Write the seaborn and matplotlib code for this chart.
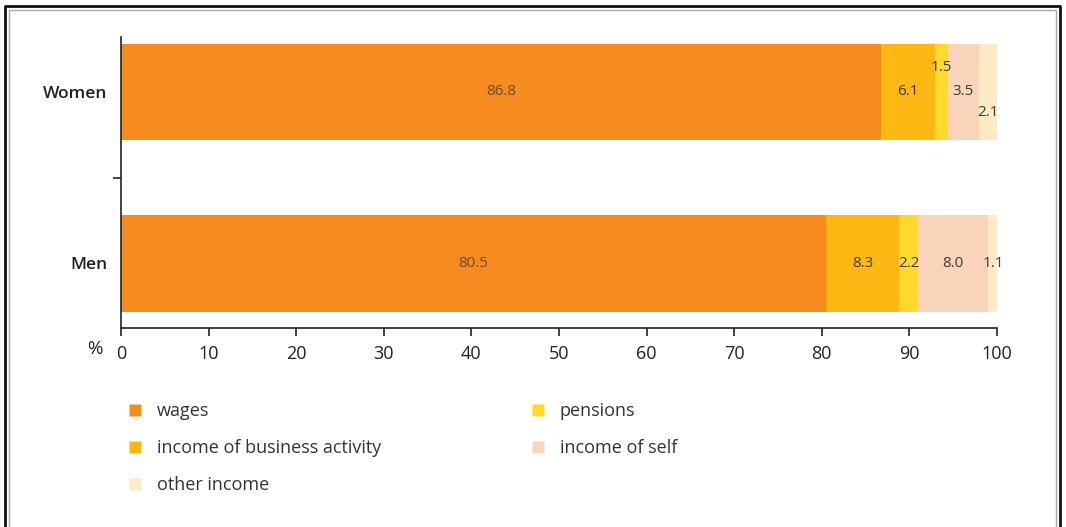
import numpy as np
import pandas as pd
import matplotlib
matplotlib.use("Agg")
import matplotlib.pyplot as plt
from matplotlib.lines import Line2D
import seaborn as sns

categories = ["Women", "Men"]
series = ["wages", "income of business activity", "pensions", "income of self", "other income"]
wages = [86.8, 80.5]
business = [6.1, 8.3]
pensions = [1.5, 2.2]
self_income = [3.5, 8.0]
other = [2.1, 1.1]
xticks = [0, 10, 20, 30, 40, 50, 60, 70, 80, 90, 100]

colors = ["#F68B1F", "#FDB813", "#FFD92E", "#F9D4BB", "#FCEAC4"]

sns.set_theme(style="white")
plt.rcParams["font.family"] = ["Open Sans", "DejaVu Sans"]

values = np.array([wages, business, pensions, self_income, other])
cum = np.cumsum(values, axis=0)

fig = plt.figure(figsize=(10.66, 5.27), dpi=100)
ax = fig.add_axes([121 / 1066, 1 - 328 / 527, (997 - 121) / 1066, (328 - 37) / 527])

# stacked bars: draw cumulative totals from the end back to the start
for i in range(len(series) - 1, -1, -1):
    df = pd.DataFrame({"cat": categories, "val": cum[i]})
    sns.barplot(data=df, y="cat", x="val", orient="h", color=colors[i],
                width=0.56, saturation=1, ax=ax, edgecolor="none", linewidth=0)

ax.set_xlim(0, 100)
ax.set_ylim(1.376, -0.32)
ax.set_xticks(xticks)
ax.set_xticklabels([str(t) for t in xticks], fontsize=13, color="#222222")
ax.tick_params(axis="x", direction="out", length=6, width=1.2, color="#222222", pad=6, bottom=True)
ax.set_yticks([0, 1])
ax.set_yticklabels(categories, fontsize=12.5, color="#222222", fontweight="semibold")
ax.tick_params(axis="y", length=0, pad=10, left=False)
ax.set_yticks([0.5], minor=True)
ax.tick_params(axis="y", which="minor", direction="out", length=6, width=1.2, color="#222222", left=True)
ax.set_xlabel("")
ax.set_ylabel("")
for s in ["top", "right"]:
    ax.spines[s].set_visible(False)
for s in ["left", "bottom"]:
    ax.spines[s].set_color("#222222")
    ax.spines[s].set_linewidth(1.2)

ax.annotate("%", xy=(0, 0), xycoords=("data", "axes fraction"), xytext=(-19, -9),
            textcoords="offset points", fontsize=13.5, color="#222222",
            ha="center", va="top", annotation_clip=False)

# value labels
lbl_color = "#3a3a3a"
offsets = {0: [0, 0, -0.14, 0, 0.12], 1: [0, 0, 0, 0, 0]}
for r in range(len(categories)):
    starts = cum[:, r] - values[:, r]
    for i in range(len(series)):
        xc = starts[i] + values[i, r] / 2
        ax.text(xc, r + offsets[r][i], f"{values[i, r]:.1f}", ha="center", va="center",
                fontsize=11, color=lbl_color if i > 0 else "#6b4a2a")

# legend
handles = [Line2D([], [], marker="s", linestyle="none", markersize=8,
                  markerfacecolor=colors[i], markeredgecolor="none", label=series[i])
           for i in [0, 1, 4, 2, 3]]
fig.legend(handles=handles, ncol=2, loc="upper left", bbox_to_anchor=(110 / 1066, 1 - 386 / 527),
           frameon=False, fontsize=13, labelspacing=1.05, columnspacing=8.2,
           handletextpad=0.7, handlelength=1.0, labelcolor="#333333")

# outer frame
fig.add_artist(Line2D([5 / 1066, 5 / 1066, 1060 / 1066, 1060 / 1066],
                      [0, 1 - 6 / 527, 1 - 6 / 527, 0], transform=fig.transFigure,
                      color="#111111", linewidth=2))
fig.add_artist(Line2D([9 / 1066, 9 / 1066, 1056 / 1066, 1056 / 1066],
                      [0, 1 - 10 / 527, 1 - 10 / 527, 0], transform=fig.transFigure,
                      color="#aaaaaa", linewidth=1))

fig.savefig("out.png", dpi=100)
